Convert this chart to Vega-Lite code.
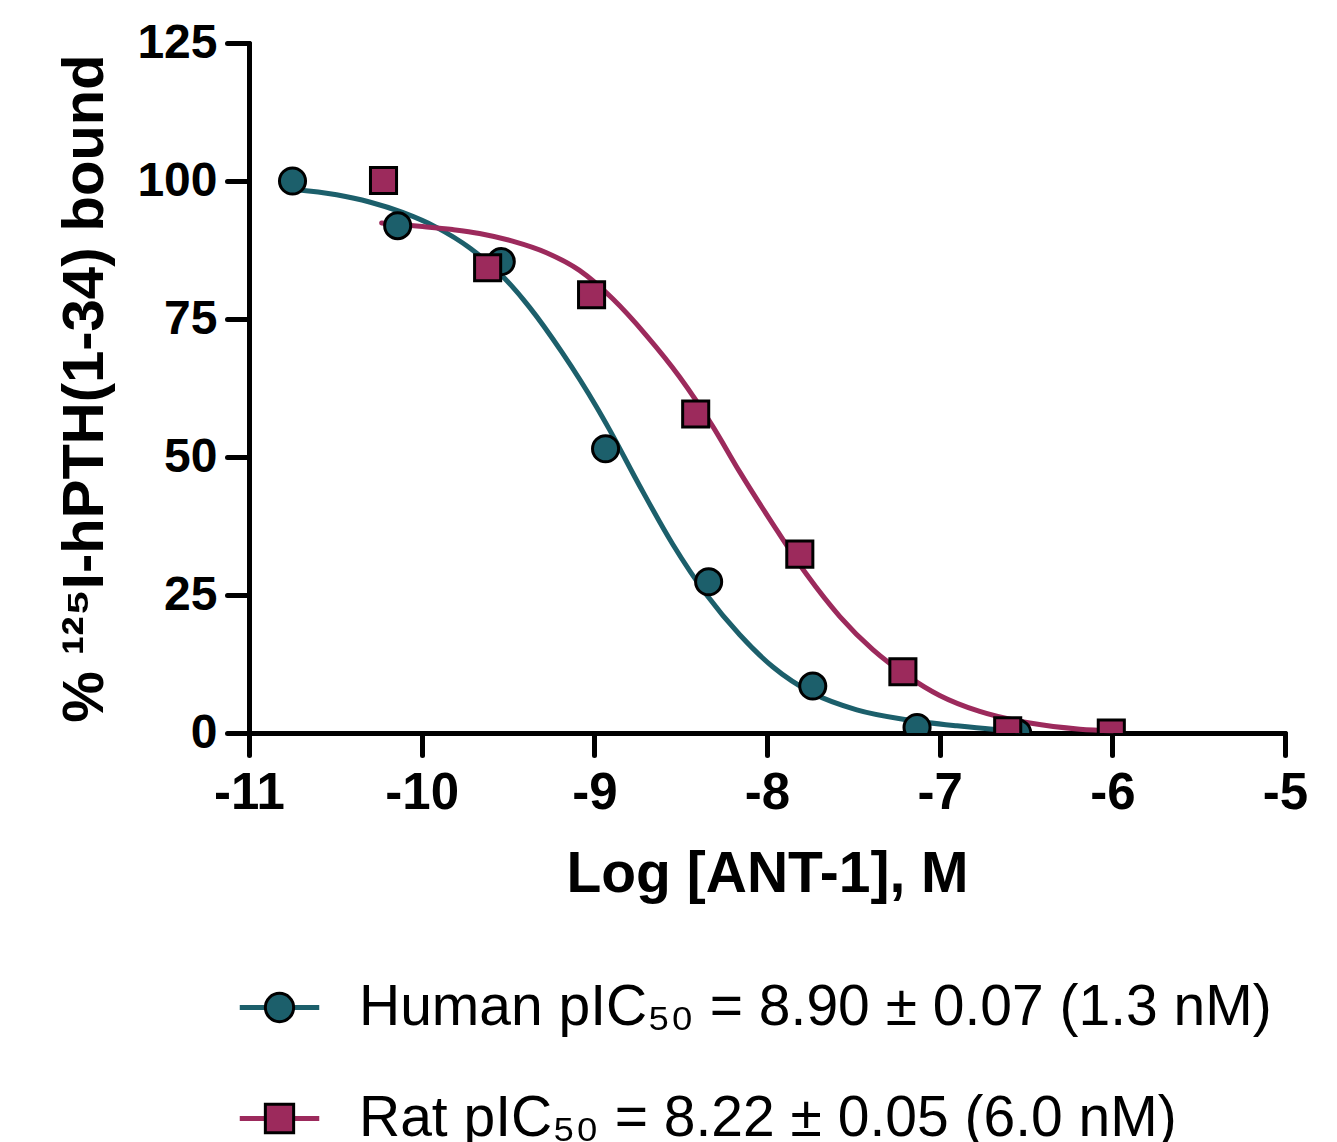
{
  "$schema": "https://vega.github.io/schema/vega-lite/v6.json",
  "width": 1036,
  "height": 690,
  "autosize": {"type": "none"},
  "padding": {"left": 249, "top": 43, "right": 52, "bottom": 409},
  "background": "white",
  "config": {
    "view": {"stroke": null},
    "font": "Liberation Sans",
    "axis": {
      "domainColor": "black", "domainWidth": 5, "domainCap": "round",
      "tickColor": "black", "tickWidth": 5, "tickCap": "round", "tickSize": 22,
      "labelFont": "Liberation Sans", "labelFontWeight": "bold", "labelColor": "black",
      "titleFont": "Liberation Sans", "titleFontWeight": "bold", "titleColor": "black",
      "grid": false
    },
    "legend": {"labelFont": "Liberation Sans", "labelColor": "black"}
  },
  "datasets": {
    "obs": [
      {"series": "Human pIC₅₀ = 8.90 ± 0.07 (1.3 nM)", "logc": -10.748, "pct": 100.0},
      {"series": "Human pIC₅₀ = 8.90 ± 0.07 (1.3 nM)", "logc": -10.139, "pct": 91.9},
      {"series": "Human pIC₅₀ = 8.90 ± 0.07 (1.3 nM)", "logc": -9.539, "pct": 85.4},
      {"series": "Human pIC₅₀ = 8.90 ± 0.07 (1.3 nM)", "logc": -8.935, "pct": 51.5},
      {"series": "Human pIC₅₀ = 8.90 ± 0.07 (1.3 nM)", "logc": -8.338, "pct": 27.4},
      {"series": "Human pIC₅₀ = 8.90 ± 0.07 (1.3 nM)", "logc": -7.735, "pct": 8.5},
      {"series": "Human pIC₅₀ = 8.90 ± 0.07 (1.3 nM)", "logc": -7.131, "pct": 1.0},
      {"series": "Human pIC₅₀ = 8.90 ± 0.07 (1.3 nM)", "logc": -6.548, "pct": 0.0},
      {"series": "Rat pIC₅₀ = 8.22 ± 0.05 (6.0 nM)", "logc": -10.221, "pct": 100.1},
      {"series": "Rat pIC₅₀ = 8.22 ± 0.05 (6.0 nM)", "logc": -9.618, "pct": 84.3},
      {"series": "Rat pIC₅₀ = 8.22 ± 0.05 (6.0 nM)", "logc": -9.016, "pct": 79.4},
      {"series": "Rat pIC₅₀ = 8.22 ± 0.05 (6.0 nM)", "logc": -8.413, "pct": 57.8},
      {"series": "Rat pIC₅₀ = 8.22 ± 0.05 (6.0 nM)", "logc": -7.810, "pct": 32.4},
      {"series": "Rat pIC₅₀ = 8.22 ± 0.05 (6.0 nM)", "logc": -7.213, "pct": 11.1},
      {"series": "Rat pIC₅₀ = 8.22 ± 0.05 (6.0 nM)", "logc": -6.606, "pct": 0.4},
      {"series": "Rat pIC₅₀ = 8.22 ± 0.05 (6.0 nM)", "logc": -6.006, "pct": 0.0}
    ],
    "fit": [
      {"curve": "Human pIC₅₀ = 8.90 ± 0.07 (1.3 nM)", "logc": -10.748, "pct": 98.5},
      {"curve": "Human pIC₅₀ = 8.90 ± 0.07 (1.3 nM)", "logc": -10.493, "pct": 97.5},
      {"curve": "Human pIC₅₀ = 8.90 ± 0.07 (1.3 nM)", "logc": -10.302, "pct": 96.2},
      {"curve": "Human pIC₅₀ = 8.90 ± 0.07 (1.3 nM)", "logc": -10.111, "pct": 94.3},
      {"curve": "Human pIC₅₀ = 8.90 ± 0.07 (1.3 nM)", "logc": -9.914, "pct": 91.6},
      {"curve": "Human pIC₅₀ = 8.90 ± 0.07 (1.3 nM)", "logc": -9.723, "pct": 87.9},
      {"curve": "Human pIC₅₀ = 8.90 ± 0.07 (1.3 nM)", "logc": -9.533, "pct": 82.8},
      {"curve": "Human pIC₅₀ = 8.90 ± 0.07 (1.3 nM)", "logc": -9.377, "pct": 77.2},
      {"curve": "Human pIC₅₀ = 8.90 ± 0.07 (1.3 nM)", "logc": -9.186, "pct": 68.9},
      {"curve": "Human pIC₅₀ = 8.90 ± 0.07 (1.3 nM)", "logc": -8.988, "pct": 59.1},
      {"curve": "Human pIC₅₀ = 8.90 ± 0.07 (1.3 nM)", "logc": -8.913, "pct": 55.0},
      {"curve": "Human pIC₅₀ = 8.90 ± 0.07 (1.3 nM)", "logc": -8.738, "pct": 44.8},
      {"curve": "Human pIC₅₀ = 8.90 ± 0.07 (1.3 nM)", "logc": -8.546, "pct": 34.2},
      {"curve": "Human pIC₅₀ = 8.90 ± 0.07 (1.3 nM)", "logc": -8.349, "pct": 25.0},
      {"curve": "Human pIC₅₀ = 8.90 ± 0.07 (1.3 nM)", "logc": -8.158, "pct": 17.8},
      {"curve": "Human pIC₅₀ = 8.90 ± 0.07 (1.3 nM)", "logc": -7.967, "pct": 12.0},
      {"curve": "Human pIC₅₀ = 8.90 ± 0.07 (1.3 nM)", "logc": -7.735, "pct": 7.2},
      {"curve": "Human pIC₅₀ = 8.90 ± 0.07 (1.3 nM)", "logc": -7.480, "pct": 4.2},
      {"curve": "Human pIC₅₀ = 8.90 ± 0.07 (1.3 nM)", "logc": -7.190, "pct": 2.4},
      {"curve": "Human pIC₅₀ = 8.90 ± 0.07 (1.3 nM)", "logc": -6.900, "pct": 1.3},
      {"curve": "Human pIC₅₀ = 8.90 ± 0.07 (1.3 nM)", "logc": -6.692, "pct": 0.7},
      {"curve": "Human pIC₅₀ = 8.90 ± 0.07 (1.3 nM)", "logc": -6.536, "pct": 0.4},
      {"curve": "Rat pIC₅₀ = 8.22 ± 0.05 (6.0 nM)", "logc": -10.232, "pct": 92.4},
      {"curve": "Rat pIC₅₀ = 8.22 ± 0.05 (6.0 nM)", "logc": -10.012, "pct": 91.8},
      {"curve": "Rat pIC₅₀ = 8.22 ± 0.05 (6.0 nM)", "logc": -9.821, "pct": 91.2},
      {"curve": "Rat pIC₅₀ = 8.22 ± 0.05 (6.0 nM)", "logc": -9.665, "pct": 90.5},
      {"curve": "Rat pIC₅₀ = 8.22 ± 0.05 (6.0 nM)", "logc": -9.474, "pct": 89.1},
      {"curve": "Rat pIC₅₀ = 8.22 ± 0.05 (6.0 nM)", "logc": -9.277, "pct": 87.0},
      {"curve": "Rat pIC₅₀ = 8.22 ± 0.05 (6.0 nM)", "logc": -9.086, "pct": 83.8},
      {"curve": "Rat pIC₅₀ = 8.22 ± 0.05 (6.0 nM)", "logc": -8.895, "pct": 78.7},
      {"curve": "Rat pIC₅₀ = 8.22 ± 0.05 (6.0 nM)", "logc": -8.698, "pct": 72.0},
      {"curve": "Rat pIC₅₀ = 8.22 ± 0.05 (6.0 nM)", "logc": -8.506, "pct": 64.5},
      {"curve": "Rat pIC₅₀ = 8.22 ± 0.05 (6.0 nM)", "logc": -8.315, "pct": 55.6},
      {"curve": "Rat pIC₅₀ = 8.22 ± 0.05 (6.0 nM)", "logc": -8.158, "pct": 47.3},
      {"curve": "Rat pIC₅₀ = 8.22 ± 0.05 (6.0 nM)", "logc": -7.967, "pct": 37.9},
      {"curve": "Rat pIC₅₀ = 8.22 ± 0.05 (6.0 nM)", "logc": -7.770, "pct": 28.7},
      {"curve": "Rat pIC₅₀ = 8.22 ± 0.05 (6.0 nM)", "logc": -7.578, "pct": 21.1},
      {"curve": "Rat pIC₅₀ = 8.22 ± 0.05 (6.0 nM)", "logc": -7.387, "pct": 15.1},
      {"curve": "Rat pIC₅₀ = 8.22 ± 0.05 (6.0 nM)", "logc": -7.190, "pct": 10.4},
      {"curve": "Rat pIC₅₀ = 8.22 ± 0.05 (6.0 nM)", "logc": -7.000, "pct": 6.8},
      {"curve": "Rat pIC₅₀ = 8.22 ± 0.05 (6.0 nM)", "logc": -6.768, "pct": 3.9},
      {"curve": "Rat pIC₅₀ = 8.22 ± 0.05 (6.0 nM)", "logc": -6.478, "pct": 1.8},
      {"curve": "Rat pIC₅₀ = 8.22 ± 0.05 (6.0 nM)", "logc": -6.188, "pct": 0.7},
      {"curve": "Rat pIC₅₀ = 8.22 ± 0.05 (6.0 nM)", "logc": -5.997, "pct": 0.4}
    ]
  },
  "encoding": {
    "x": {
      "field": "logc", "type": "quantitative",
      "scale": {"domain": [-11, -5], "nice": false, "zero": false},
      "axis": {
        "values": [-11, -10, -9, -8, -7, -6, -5],
        "labelExpr": "'' + datum.value", "labelFlush": false,
        "labelFontSize": 51, "labelPadding": 13,
        "title": "Log [ANT-1], M", "titleFontSize": 57, "titlePadding": 28
      }
    },
    "y": {
      "field": "pct", "type": "quantitative",
      "scale": {"domain": [0, 125], "nice": false},
      "axis": {
        "values": [0, 25, 50, 75, 100, 125], "labelFlush": false,
        "labelFontSize": 48, "labelPadding": 10,
        "title": "% ¹²⁵I-hPTH(1-34) bound", "titleFontSize": 58, "titlePadding": 22
      }
    }
  },
  "layer": [
    {
      "data": {"name": "fit"},
      "mark": {"type": "line", "strokeWidth": 5, "interpolate": "monotone", "strokeCap": "round"},
      "encoding": {
        "stroke": {
          "field": "curve", "type": "nominal",
          "scale": {"range": ["#1c5f6b", "#9c2a5c"]},
          "legend": {
            "title": null, "orient": "none", "legendX": 2, "legendY": 936,
            "direction": "vertical", "padding": 0,
            "symbolType": "M-2.65,0H-0.9M0.9,0H2.65", "symbolSize": 900,
            "symbolStrokeWidth": 5, "symbolOffset": 0,
            "labelFontSize": 57, "labelOpacity": 0, "labelOffset": 51, "labelLimit": 0, "rowPadding": 53
          }
        }
      }
    },
    {
      "data": {"name": "obs"},
      "mark": {"type": "point", "filled": true, "stroke": "black", "strokeWidth": 3, "size": 680, "opacity": 1, "clip": true},
      "encoding": {
        "fill": {
          "field": "series", "type": "nominal",
          "scale": {"range": ["#1c5f6b", "#9c2a5c"]},
          "legend": {
            "title": null, "orient": "none", "legendX": 2, "legendY": 936,
            "direction": "vertical", "padding": 0,
            "symbolSize": 800, "symbolStrokeColor": "black", "symbolStrokeWidth": 3,
            "symbolOpacity": 1, "symbolOffset": 0,
            "labelFontSize": 57, "labelOffset": 51, "labelLimit": 0, "rowPadding": 53,
            "encode": {"symbols": {"update": {"stroke": {"value": "black"}, "strokeWidth": {"value": 3}, "opacity": {"value": 1}}}}
          }
        },
        "shape": {
          "field": "series", "type": "nominal",
          "scale": {"range": ["circle", "square"]},
          "legend": {
            "title": null, "orient": "none", "legendX": 2, "legendY": 936,
            "direction": "vertical", "padding": 0,
            "symbolSize": 800, "symbolStrokeColor": "black", "symbolStrokeWidth": 3,
            "symbolOpacity": 1, "symbolOffset": 0,
            "labelFontSize": 57, "labelOffset": 51, "labelLimit": 0, "rowPadding": 53,
            "encode": {"symbols": {"update": {"stroke": {"value": "black"}, "strokeWidth": {"value": 3}, "opacity": {"value": 1}}}}
          }
        }
      }
    }
  ]
}
